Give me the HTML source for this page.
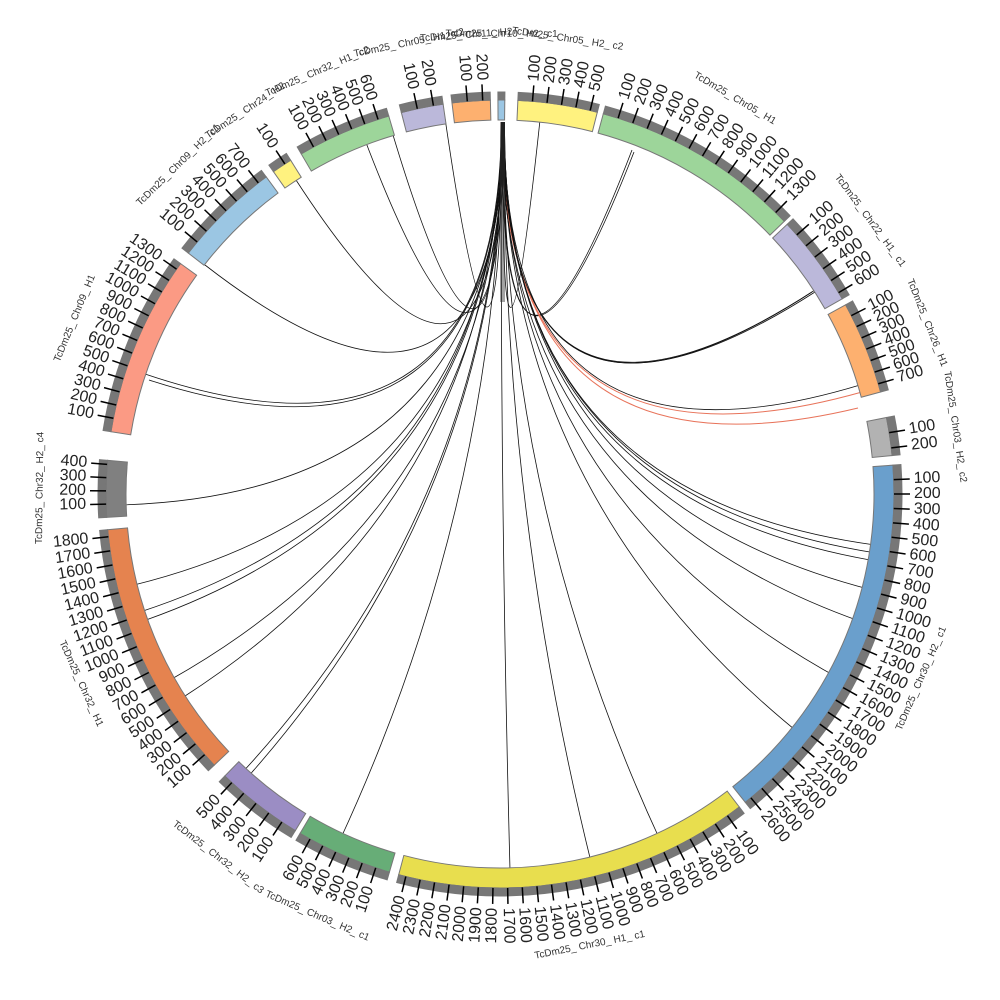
<!DOCTYPE html>
<html><head><meta charset="utf-8">
<style>
html,body{margin:0;padding:0;background:#fff;}
svg{display:block;}
text{font-family:"Liberation Sans","DejaVu Sans",sans-serif;}
</style></head>
<body>
<svg id="s" width="1000" height="1000" viewBox="0 0 1000 1000" xmlns="http://www.w3.org/2000/svg"></svg>
<script>
const CX=500,CY=494,R0=374,R1=394,R2=402,RT=410,RL=414,RN=460;
const segs=[
 ["TcDm25_Chr05_H2_c2",2.6,14.3,550,"#fff27f"],
 ["TcDm25_Chr05_H1",15.2,46.2,1380,"#9dd59a"],
 ["TcDm25_Chr22_H1_c1",46.8,60.3,650,"#bbb8da"],
 ["TcDm25_Chr26_H1",61.3,75,770,"#fdb06f"],
 ["TcDm25_Chr03_H2_c2",78.8,84.4,250,"#b2b2b2"],
 ["TcDm25_Chr30_H2_c1",85.8,141.5,2650,"#6a9fcc"],
 ["TcDm25_Chr30_H1_c1",142.6,194.9,2450,"#e8de4e"],
 ["TcDm25_Chr03_H2_c1",196.3,210.5,680,"#67ad77"],
 ["TcDm25_Chr32_H2_c3",211.3,224.3,560,"#9b8dc4"],
 ["TcDm25_Chr32_H1",226.5,264.8,1850,"#e5834f"],
 ["TcDm25_Chr32_H2_c4",266.6,274.9,430,"#808080"],
 ["TcDm25_Chr09_H1",279.1,305.8,1350,"#fb9a84"],
 ["TcDm25_Chr09_H2_c1",307.7,323.6,770,"#9bc6e3"],
 ["TcDm25_Chr24_H2",324.9,327.9,150,"#fff27f"],
 ["TcDm25_Chr32_H1_c2",329.7,343.6,680,"#9dd59a"],
 ["TcDm25_Chr05_H1_c2",345.5,351.7,260,"#bbb8da"],
 ["TcDm25_Chr11_H2",353,358.6,250,"#fdb06f"],
 ["TcDm25_Chr10_H2_c1",359.7,360.7,30,"#9bc6e3"]
];
const rad=a=>(a)*Math.PI/180;
const P=(a,r)=>[CX+r*Math.sin(rad(a)),CY-r*Math.cos(rad(a))];
let out=[];
function arc(a0,a1,ri,ro,fill,stroke){
 const [x0,y0]=P(a0,ro),[x1,y1]=P(a1,ro),[x2,y2]=P(a1,ri),[x3,y3]=P(a0,ri);
 const lg=(a1-a0)>180?1:0;
 return `<path d="M${x0},${y0}A${ro},${ro} 0 ${lg} 1 ${x1},${y1}L${x2},${y2}A${ri},${ri} 0 ${lg} 0 ${x3},${y3}Z" fill="${fill}" stroke="${stroke}" stroke-width="1"/>`;
}
const src=[503,122];
const ends=[[632,150],[634,152],[815,290],[812,292],[860,385],[862,392],[858,408],[875,545],[876,553],[872,590],[862,622],[842,680],[805,738],[660,840],[592,866],[510,870],[340,840],[240,775],[246,779],[170,680],[182,698],[140,612],[146,620],[134,585],[120,505],[145,374],[149,380],[205,265],[296,180],[365,140],[390,125],[445,118],[540,120],[815,292],[870,560]];
const reds=new Set([5,6]);
ends.forEach((e,i)=>{
 const sx=src[0]+(i%5-2)*0.8;
 out.push(`<path d="M${sx},${src[1]}Q${CX},${CY} ${e[0]},${e[1]}" fill="none" stroke="${reds.has(i)?'#e8735a':'#111'}" stroke-width="${reds.has(i)?1:0.8}"/>`);
});
out.push(`<rect x="500" y="122" width="5" height="180" fill="#333" opacity="0.45"/>`);
segs.forEach(s=>{
 const [name,a0,a1,len,col]=s;
 out.push(arc(a0,a1,R0,R1,col,"#777"));
 out.push(arc(a0,a1,R1,R2,"#777","#777"));
 const span=a1-a0;
 for(let v=100;v<len;v+=100){
  const a=a0+span*v/len;
  const [x1,y1]=P(a,R1),[x2,y2]=P(a,RT);
  out.push(`<line x1="${x1}" y1="${y1}" x2="${x2}" y2="${y2}" stroke="#000" stroke-width="1.5"/>`);
  const [tx,ty]=P(a,RL);
  const n=((a%360)+360)%360;
  if(n<180) out.push(`<text x="${tx}" y="${ty}" font-size="16" fill="#222" dominant-baseline="middle" transform="rotate(${n-90} ${tx} ${ty})">${v}</text>`);
  else out.push(`<text x="${tx}" y="${ty}" font-size="16" fill="#222" text-anchor="end" dominant-baseline="middle" transform="rotate(${n+90} ${tx} ${ty})">${v}</text>`);
 }
 const am=(a0+a1)/2, n=((am%360)+360)%360;
 const [lx,ly]=P(am,RN);
 let rot=n; if(n>90&&n<270) rot=n+180;
 out.push(`<text x="${lx}" y="${ly}" font-size="10" fill="#333" text-anchor="middle" dominant-baseline="middle" transform="rotate(${rot} ${lx} ${ly})">${name.replace(/_/g,'_ ')}</text>`);
});
document.getElementById('s').innerHTML=out.join('');
</script>
</body></html>
